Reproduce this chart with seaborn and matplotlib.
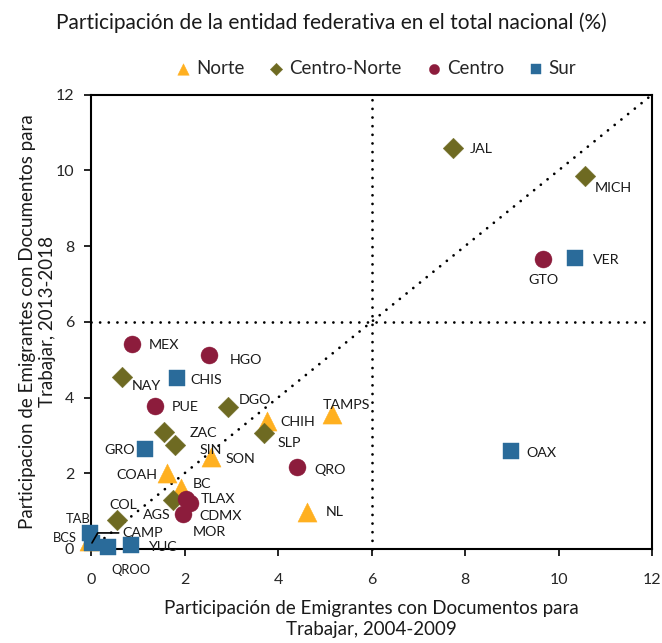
import matplotlib
matplotlib.use("Agg")
import matplotlib.pyplot as plt
import seaborn as sns
import pandas as pd

# ---------------- data ----------------
estados = ["TAMPS", "CHIH", "SON", "COAH", "BC", "NL", "BCS",
           "JAL", "MICH", "NAY", "DGO", "SLP", "ZAC", "SIN", "AGS", "COL",
           "GTO", "MEX", "HGO", "PUE", "QRO", "TLAX", "MOR", "CDMX",
           "VER", "OAX", "CHIS", "GRO", "TAB", "CAMP", "QROO", "YUC"]
region = (["Norte"] * 7 + ["Centro-Norte"] * 9 + ["Centro"] * 8 + ["Sur"] * 8)
x_2004_2009 = [5.16, 3.77, 2.57, 1.62, 1.93, 4.63, -0.05,
               7.74, 10.56, 0.66, 2.94, 3.69, 1.57, 1.79, 1.75, 0.56,
               9.66, 0.88, 2.53, 1.37, 4.41, 2.04, 2.11, 1.97,
               10.35, 8.98, 1.84, 1.16, -0.03, 0.02, 0.36, 0.86]
y_2013_2018 = [3.57, 3.38, 2.43, 2.02, 1.60, 0.98, 0.22,
               10.60, 9.86, 4.55, 3.75, 3.07, 3.10, 2.75, 1.30, 0.77,
               7.67, 5.42, 5.13, 3.78, 2.17, 1.31, 1.22, 0.93,
               7.69, 2.59, 4.52, 2.64, 0.41, 0.16, 0.06, 0.10]
regiones = ["Norte", "Centro-Norte", "Centro", "Sur"]
ticks = [0, 2, 4, 6, 8, 10, 12]

subtitle = "Participación de la entidad federativa en el total nacional (%)"
xlabel = "Participación de Emigrantes con Documentos para\nTrabajar, 2004-2009"
ylabel = "Participacion de Emigrantes con Documentos para\nTrabajar, 2013-2018"

# ---------------- styles ----------------
colors = {"Norte": "#FFB020", "Centro-Norte": "#6E6A22",
          "Centro": "#8C1C3C", "Sur": "#2A6B9A"}
markers = {"Norte": "^", "Centro-Norte": "D", "Centro": "o", "Sur": "s"}
sizes = {"Norte": 190, "Centro-Norte": 110, "Centro": 150, "Sur": 135}

# label offsets in pixels (dx, dy, ha)
label_pos = {
    "TAMPS": (-10, 9, "left"), "CHIH": (13, -1, "left"), "SON": (14, -2, "left"),
    "COAH": (-9, -2, "right"), "BC": (11, 4, "left"), "NL": (18, 0, "left"),
    "BCS": (-12, 3, "right"),
    "JAL": (17, -1, "left"), "MICH": (10, -12, "left"), "NAY": (10, -9, "left"),
    "DGO": (10, 7, "left"), "SLP": (14, -10, "left"), "ZAC": (25, -1, "left"),
    "SIN": (25, -5, "left"), "AGS": (-2, -15, "right"), "COL": (-8, 15, "left"),
    "GTO": (-14, -21, "left"), "MEX": (17, -1, "left"), "HGO": (20, -5, "left"),
    "PUE": (17, -1, "left"), "QRO": (17, -3, "left"), "TLAX": (14, 0, "left"),
    "MOR": (3, -29, "left"), "CDMX": (16, -2, "left"),
    "VER": (18, -2, "left"), "OAX": (16, -2, "left"), "CHIS": (13, -2, "left"),
    "GRO": (-10, -1, "right"), "TAB": (1, 14, "right"),
    "QROO": (4, -23, "left"), "YUC": (18, -2, "left"),
}

df = pd.DataFrame({"estado": estados, "region": region,
                   "x": x_2004_2009, "y": y_2013_2018})

sns.set_theme(style="white")
plt.rcParams["font.family"] = ["Lato", "DejaVu Sans"]

fig = plt.figure(figsize=(6.62, 6.43), dpi=100)
ax = fig.add_axes([0.1375, 0.1462, 0.8475, 0.7066])

# reference lines
dot = dict(color="black", lw=2.0, linestyle=(0, (0.01, 3.1)),
           dash_capstyle="round", zorder=1)
ax.plot([0, 12], [6, 6], clip_on=False, **dot)
ax.plot([6, 6], [0, 12], clip_on=False, **dot)
ax.plot([0, 12], [0, 12], clip_on=False, **dot)

for reg in regiones:
    sub = df[df["region"] == reg]
    sns.scatterplot(data=sub, x="x", y="y", ax=ax, color=colors[reg],
                    marker=markers[reg], s=sizes[reg], linewidth=0.3,
                    edgecolor=colors[reg], label=reg, zorder=3, clip_on=False,
                    legend=True)

# labels
for _, r in df.iterrows():
    if r["estado"] == "CAMP":
        continue
    dx, dy, ha = label_pos[r["estado"]]
    ax.annotate(r["estado"], (r["x"], r["y"]), xytext=(dx, dy),
                textcoords="offset pixels", ha=ha, va="center",
                fontsize=10.3 if r["estado"] not in ("TAB", "BCS", "QROO") else 9.3,
                color="#1a1a1a", zorder=4, annotation_clip=False)

# CAMP with leader line
camp = df[df["estado"] == "CAMP"].iloc[0]
ax.annotate("CAMP", (camp["x"], camp["y"]), xytext=(30, 10),
            textcoords="offset pixels", ha="left", va="center",
            fontsize=10.3, color="#1a1a1a", zorder=4, annotation_clip=False,
            arrowprops=dict(arrowstyle="-", color="black", lw=1.2,
                            connectionstyle="angle,angleA=0,angleB=60,rad=0",
                            shrinkA=0, shrinkB=0))

ax.set_xlim(0, 12)
ax.set_ylim(0, 12)
ax.set_xticks(ticks)
ax.set_yticks(ticks)
ax.set_xticklabels([str(t) for t in ticks], fontsize=11.5)
ax.set_yticklabels([str(t) for t in ticks], fontsize=11.5)
ax.tick_params(axis="both", direction="out", length=5, width=1.2,
               color="black", bottom=True, left=True, pad=12)
ax.tick_params(axis="y", pad=7)
for sp in ax.spines.values():
    sp.set_visible(True)
    sp.set_color("black")
    sp.set_linewidth(1.5)

ax.set_xlabel(xlabel, fontsize=13.5, labelpad=10, color="#1a1a1a",
              linespacing=1.25)
ax.set_ylabel(ylabel, fontsize=13.5, color="#1a1a1a", linespacing=1.25)
ax.yaxis.set_label_coords(-0.062, 0.5)

fig.text(0.5, 0.965, subtitle, ha="center", va="center", fontsize=15,
         color="#1a1a1a")

leg = ax.legend(loc="center", bbox_to_anchor=(0.506, 1.058), ncol=4,
                frameon=False, fontsize=13.5, handletextpad=0.2,
                columnspacing=1.2, markerscale=0.6, handlelength=1.0)

fig.savefig("out.png", dpi=100)
